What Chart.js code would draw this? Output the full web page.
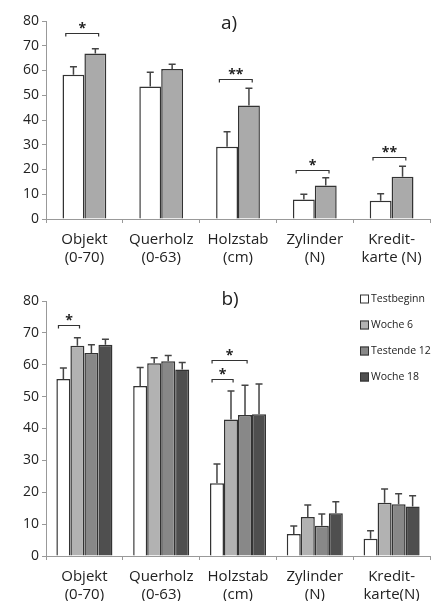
<!DOCTYPE html>
<html>
<head>
<meta charset="utf-8">
<script src="https://cdn.jsdelivr.net/npm/chart.js@4"></script>
<style>
  body { margin: 0; background: #fff; }
  #wrapA { position: absolute; left: 0; top: 0; width: 432px; height: 270px; }
  #wrapB { position: absolute; left: 0; top: 280px; width: 432px; height: 321px; }
</style>
</head>
<body>
<div id="wrapA"><canvas id="chartA" width="432" height="270"></canvas></div>
<div id="wrapB"><canvas id="chartB" width="432" height="321"></canvas></div>
<script>
// Kategorien
const catsA = [['Objekt', '(0-70)'], ['Querholz', '(0-63)'], ['Holzstab', '(cm)'], ['Zylinder', '(N)'], ['Kredit-', 'karte (N)']];
const catsB = [['Objekt', '(0-70)'], ['Querholz', '(0-63)'], ['Holzstab', '(cm)'], ['Zylinder', '(N)'], ['Kredit-', 'karte(N)']];
const yTicks = [0, 10, 20, 30, 40, 50, 60, 70, 80];

// a) Testbeginn vs Testende
const aTestbeginn = [58.3, 53.5, 29.2, 7.9, 7.4];
const aTestbeginnErr = [3.2, 5.8, 6.1, 2.1, 2.8];
const aTestende = [66.9, 60.6, 45.9, 13.5, 17.1];
const aTestendeErr = [1.9, 1.9, 6.9, 3.2, 4.2];

// b) Verlauf
const bTestbeginn = [55.5, 53.3, 22.8, 6.9, 5.4];
const bTestbeginnErr = [3.5, 5.8, 6.1, 2.5, 2.5];
const bWoche6 = [66.0, 60.5, 42.8, 12.2, 16.7];
const bWoche6Err = [2.5, 1.7, 9.0, 3.8, 4.3];
const bTestende12 = [63.7, 61.1, 44.2, 9.5, 16.2];
const bTestende12Err = [2.6, 1.8, 9.4, 3.7, 3.3];
const bWoche18 = [66.3, 58.5, 44.5, 13.4, 15.5];
const bWoche18Err = [1.7, 2.2, 9.5, 3.6, 3.4];

// Signifikanz: [Kategorie, von Datensatz, bis Datensatz, Höhe, Zeichen]
const sigA = [[0, 0, 1, 75.2, '*'], [2, 0, 1, 56.7, '**'], [3, 0, 1, 19.8, '*'], [4, 0, 1, 24.9, '**']];
const sigB = [[0, 0, 1, 72.5, '*'], [2, 0, 2, 61.4, '*'], [2, 0, 1, 55.6, '*']];

const FONT = "'Open Sans', sans-serif";
const INK = '#222';

// Fehlerbalken (nur nach oben)
const errorBars = {
  id: 'errorBars',
  afterDatasetsDraw(chart) {
    const ctx = chart.ctx;
    const y = chart.scales.y;
    ctx.save();
    ctx.strokeStyle = '#444';
    ctx.lineWidth = 1.5;
    chart.data.datasets.forEach((ds, i) => {
      const meta = chart.getDatasetMeta(i);
      meta.data.forEach((bar, j) => {
        const top = y.getPixelForValue(ds.data[j] + ds.errors[j]);
        ctx.beginPath();
        ctx.moveTo(bar.x, bar.y);
        ctx.lineTo(bar.x, top);
        ctx.moveTo(bar.x - 3.5, top);
        ctx.lineTo(bar.x + 3.5, top);
        ctx.stroke();
      });
    });
    ctx.restore();
  }
};

// Klammern, Titel, Legende
const extras = {
  id: 'extras',
  afterDraw(chart, args, opts) {
    const ctx = chart.ctx;
    const y = chart.scales.y;
    ctx.save();
    ctx.strokeStyle = '#333';
    ctx.lineWidth = 1.2;
    ctx.fillStyle = INK;
    (opts.sig || []).forEach(([cat, from, to, val, mark]) => {
      const b1 = chart.getDatasetMeta(from).data[cat];
      const b2 = chart.getDatasetMeta(to).data[cat];
      const x1 = b1.x - b1.width * 0.35;
      const x2 = b2.x + b2.width * 0.15;
      const py = Math.round(y.getPixelForValue(val)) + 0.5;
      ctx.beginPath();
      ctx.moveTo(x1, py + 3);
      ctx.lineTo(x1, py);
      ctx.lineTo(x2, py);
      ctx.lineTo(x2, py + 3);
      ctx.stroke();
      ctx.font = 'bold 14px ' + FONT;
      ctx.textAlign = 'center';
      ctx.textBaseline = 'alphabetic';
      ctx.fillText(mark, (x1 + x2) / 2, py - 1);
    });
    if (opts.title) {
      ctx.font = '19px ' + FONT;
      ctx.textAlign = 'center';
      ctx.textBaseline = 'middle';
      ctx.fillText(opts.title, opts.titleX, opts.titleY);
    }
    if (opts.legend) {
      ctx.font = '10.5px ' + FONT;
      ctx.textAlign = 'left';
      ctx.textBaseline = 'middle';
      chart.data.datasets.forEach((ds, i) => {
        const ly = opts.legendY + i * 26;
        ctx.fillStyle = ds.backgroundColor;
        ctx.fillRect(opts.legendX, ly - 4.5, 9, 9);
        ctx.strokeStyle = '#333';
        ctx.lineWidth = 1;
        ctx.strokeRect(opts.legendX + 0.5, ly - 4, 8, 8);
        ctx.fillStyle = INK;
        ctx.fillText(ds.label, opts.legendX + 11, ly);
      });
    }
    ctx.restore();
  }
};

function makeChart(id, labels, datasets, catPct, xHeight, padTop, extraOpts) {
  return new Chart(document.getElementById(id), {
    type: 'bar',
    data: { labels: labels, datasets: datasets },
    options: {
      responsive: false,
      animation: false,
      layout: { padding: { top: padTop, right: 2, left: 0, bottom: 0 } },
      datasets: {
        bar: {
          categoryPercentage: catPct,
          barPercentage: 1,
          borderColor: '#333',
          borderWidth: 1.5
        }
      },
      plugins: {
        legend: { display: false },
        tooltip: { enabled: false },
        extras: extraOpts
      },
      scales: {
        x: {
          grid: { display: true, drawOnChartArea: false, tickLength: 4, color: '#999' },
          border: { color: '#999' },
          ticks: { color: INK, font: { family: FONT, size: 15 }, padding: 8, maxRotation: 0, autoSkip: false },
          afterFit: s => { s.height = xHeight; }
        },
        y: {
          min: 0,
          max: 80,
          afterBuildTicks: s => { s.ticks = yTicks.map(v => ({ value: v })); },
          grid: { display: true, drawOnChartArea: false, tickLength: 4, color: '#999' },
          border: { color: '#999' },
          ticks: { color: INK, font: { family: FONT, size: 14 }, padding: 3 },
          afterFit: s => { s.width = 46; }
        }
      }
    },
    plugins: [errorBars, extras]
  });
}

makeChart('chartA', catsA, [
  { label: 'Testbeginn', data: aTestbeginn, errors: aTestbeginnErr, backgroundColor: '#ffffff' },
  { label: 'Testende', data: aTestende, errors: aTestendeErr, backgroundColor: '#aaaaaa' }
], 0.57, 51, 21, { sig: sigA, title: 'a)', titleX: 229, titleY: 24 });

makeChart('chartB', catsB, [
  { label: 'Testbeginn', data: bTestbeginn, errors: bTestbeginnErr, backgroundColor: '#ffffff' },
  { label: 'Woche 6', data: bWoche6, errors: bWoche6Err, backgroundColor: '#b2b2b2' },
  { label: 'Testende 12', data: bTestende12, errors: bTestende12Err, backgroundColor: '#888888' },
  { label: 'Woche 18', data: bWoche18, errors: bWoche18Err, backgroundColor: '#4f4f4f' }
], 0.73, 45, 21, { sig: sigB, title: 'b)', titleX: 230, titleY: 20, legend: true, legendX: 360, legendY: 19 });
</script>
</body>
</html>
